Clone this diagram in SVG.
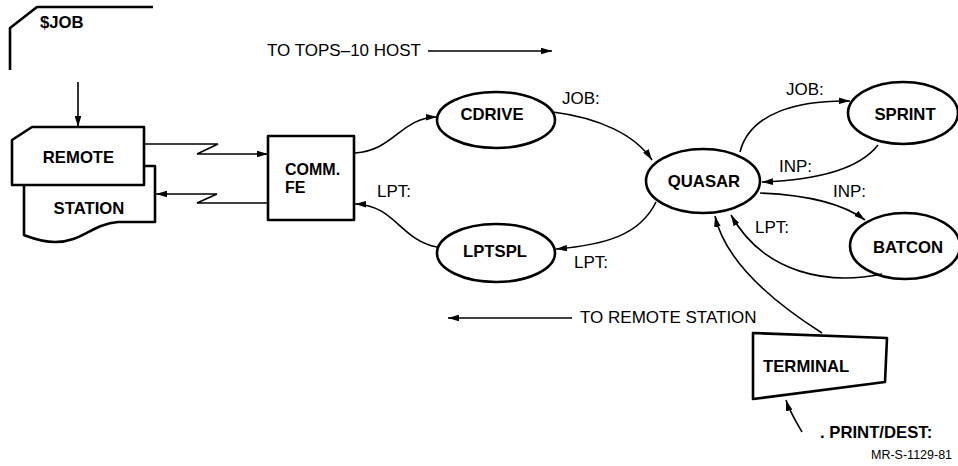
<svg xmlns="http://www.w3.org/2000/svg" width="958" height="466" viewBox="0 0 958 466">
<style>
.bg{fill:#fff}
.shape{fill:#fff;stroke:#000;stroke-width:2.6;stroke-linejoin:round}
.card{fill:none;stroke:#000;stroke-width:2.6;stroke-linejoin:round}
.conn{fill:none;stroke:#000;stroke-width:1.6}
.lbl{font-family:"Liberation Sans",Arial,sans-serif;font-weight:bold;font-size:16.7px;fill:#000}
.lbl2{font-family:"Liberation Sans",Arial,sans-serif;font-weight:bold;font-size:16px;fill:#000}
.txt{font-family:"Liberation Sans",Arial,sans-serif;font-size:17px;fill:#000}
.small{font-family:"Liberation Sans",Arial,sans-serif;font-size:12.5px;fill:#000}
</style>
<defs>
<marker id="ah" viewBox="0 0 10 6" refX="10" refY="3" markerWidth="11" markerHeight="6.6" markerUnits="userSpaceOnUse" orient="auto">
<path d="M0,0 L10,3 L0,6 z" fill="#000"/>
</marker>
</defs>
<rect class="bg" x="0" y="0" width="958" height="466"/>

<g id="job-card">
<path class="card" d="M10,70 L10,28 L37,7 L153,7"/>
<text class="lbl" x="40" y="28">$JOB</text>
</g>

<g id="remote-station">
<path class="shape" d="M144,166 L155,166 L155,222 L118,222 C92,224 82,242 55,242 C42,242 32,238 24,235 L24,185"/>
<path class="shape" d="M12,140 L32,127 L144,127 L144,185 L12,185 Z"/>
<text class="lbl" x="78.5" y="163" text-anchor="middle">REMOTE</text>
<text class="lbl" x="89" y="214" text-anchor="middle">STATION</text>
</g>

<g id="comm-fe">
<rect class="shape" x="268" y="136" width="86" height="84"/>
<text class="lbl2" x="285" y="175">COMM.</text>
<text class="lbl2" x="285" y="193">FE</text>
</g>

<g id="cdrive">
<ellipse class="shape" cx="496" cy="120" rx="59" ry="28"/>
<text class="lbl" x="492" y="120" text-anchor="middle">CDRIVE</text>
</g>

<g id="lptspl">
<ellipse class="shape" cx="496" cy="253" rx="59" ry="29"/>
<text class="lbl" x="495" y="257" text-anchor="middle">LPTSPL</text>
</g>

<g id="quasar">
<ellipse class="shape" cx="703" cy="181" rx="57" ry="32"/>
<text class="lbl" x="704" y="187" text-anchor="middle">QUASAR</text>
</g>

<g id="sprint">
<ellipse class="shape" cx="903" cy="113" rx="55" ry="31"/>
<text class="lbl" x="905" y="120" text-anchor="middle">SPRINT</text>
</g>

<g id="batcon">
<ellipse class="shape" cx="905" cy="246" rx="55" ry="33"/>
<text class="lbl" x="908" y="253" text-anchor="middle">BATCON</text>
</g>

<g id="terminal">
<path class="shape" d="M753,333 L887,338 L885,382 L753,399 Z"/>
<text class="lbl" x="763" y="372">TERMINAL</text>
</g>

<g id="connectors">
<path class="conn" d="M78,82 L78,127" marker-end="url(#ah)"/>
<path class="conn" d="M144,144 L218,144 L197,154 L268,154" marker-end="url(#ah)"/>
<path class="conn" d="M268,203 L197,203 L217,194 L156,194" marker-end="url(#ah)"/>
<path class="conn" d="M355,153 C395,150 400,118 437,117" marker-end="url(#ah)"/>
<path class="conn" d="M437,247 C400,240 395,205 355,204" marker-end="url(#ah)"/>
<path class="conn" d="M553,112 C600,118 635,135 652,160" marker-end="url(#ah)"/>
<path class="conn" d="M656,202 C640,235 605,245 556,249" marker-end="url(#ah)"/>
<path class="conn" d="M740,152 C750,112 800,100 850,101" marker-end="url(#ah)"/>
<path class="conn" d="M878,145 C860,168 820,180 762,182" marker-end="url(#ah)"/>
<path class="conn" d="M760,193 C810,195 845,205 865,220" marker-end="url(#ah)"/>
<path class="conn" d="M882,274 C830,285 765,275 731,215" marker-end="url(#ah)"/>
<path class="conn" d="M822,333 C770,300 725,260 715,216" marker-end="url(#ah)"/>
<path class="conn" d="M802,432 C795,420 789,410 786,400" marker-end="url(#ah)"/>
<path class="conn" d="M428,51 L552,51" marker-end="url(#ah)"/>
<path class="conn" d="M572,318 L448,318" marker-end="url(#ah)"/>
</g>

<g id="labels">
<text class="txt" x="267" y="56">TO TOPS–10 HOST</text>
<text class="txt" x="580" y="323">TO REMOTE STATION</text>
<text class="txt" x="562" y="104">JOB:</text>
<text class="txt" x="377" y="197">LPT:</text>
<text class="txt" x="574" y="268">LPT:</text>
<text class="txt" x="786" y="95">JOB:</text>
<text class="txt" x="779" y="172">INP:</text>
<text class="txt" x="833" y="197">INP:</text>
<text class="txt" x="755" y="233">LPT:</text>
<text class="lbl" x="820" y="438">. PRINT/DEST:</text>
<text class="small" x="871" y="459">MR-S-1129-81</text>
</g>
</svg>
